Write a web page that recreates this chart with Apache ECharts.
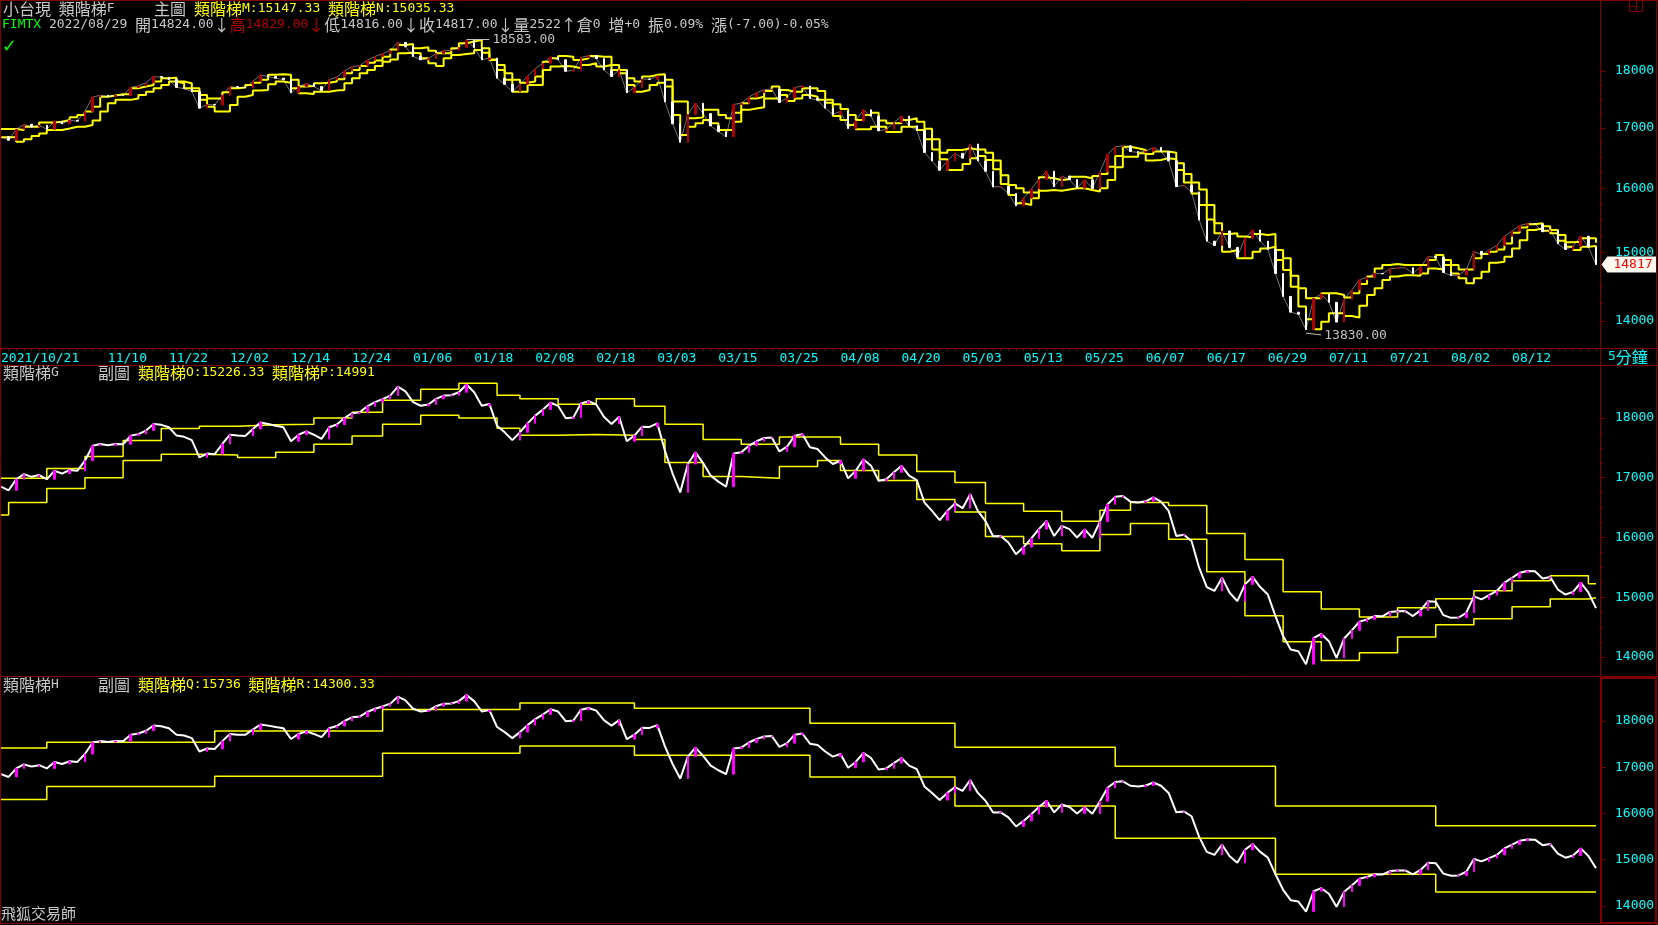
<!DOCTYPE html>
<html><head><meta charset="utf-8">
<script src="https://cdn.jsdelivr.net/npm/echarts@6/dist/echarts.min.js"></script>
<style>html,body{margin:0;padding:0;background:#000;}#c{width:1658px;height:925px;}</style>
</head><body><div id="c"></div>
<script>
// ---- data (one category per trading day, 2021/10/21 .. 2022/08/29) ----
const closes = [16850,16790,16975,17060,17015,17045,16975,17115,17070,17130,
17115,17285,17535,17565,17545,17565,17560,17705,17730,17790,
17900,17885,17845,17705,17685,17630,17340,17405,17395,17565,
17720,17705,17700,17815,17925,17900,17870,17845,17610,17720,
17775,17720,17650,17845,17890,18000,18080,18095,18195,18265,
18315,18375,18525,18445,18265,18205,18225,18320,18375,18380,
18430,18560,18430,18205,18235,17870,17760,17630,17760,17910,
18040,18140,18255,18205,17995,18010,18245,18280,18225,18020,
17900,18020,17610,17705,17855,17850,17910,17450,17070,16755,
17230,17425,17245,17035,16935,16850,17405,17425,17535,17610,
17665,17675,17440,17520,17705,17730,17510,17480,17340,17230,
17285,16990,17115,17310,17200,16950,16975,17090,17200,17035,
16960,16585,16445,16290,16445,16570,16490,16725,16445,16275,
16020,16025,15915,15720,15840,15985,16140,16275,16025,16195,
16140,16000,16135,15995,16265,16555,16680,16695,16600,16585,
16605,16670,16600,16445,16025,16045,15940,15495,15170,15105,
15325,15075,14935,15215,15340,15170,15045,14685,14350,14125,
14095,13880,14320,14385,14265,13985,14310,14445,14590,14630,
14685,14680,14755,14765,14770,14685,14780,14935,14925,14700,
14655,14660,14740,15015,14965,15035,15105,15245,15325,15410,
15440,15435,15315,15340,15130,15045,15090,15245,15080,14817];

const ladderM = [16980,16980,16965,17020,17020,17090,17090,17105,17135,17180,
17220,17280,17365,17540,17560,17585,17585,17690,17720,17750,
17810,17870,17880,17810,17780,17690,17570,17510,17510,17620,
17690,17705,17750,17790,17840,17930,17940,17930,17840,17720,
17730,17780,17790,17810,17850,17960,18020,18090,18150,18190,
18260,18395,18475,18495,18415,18435,18370,18325,18325,18415,
18510,18540,18570,18415,18210,18110,17960,17840,17790,17810,
17900,18170,18230,18275,18260,18200,18230,18275,18260,18260,
18110,18020,17870,17810,17900,17930,17940,17840,17455,17455,
17165,17180,17310,17310,17220,17165,17260,17425,17510,17540,
17640,17720,17660,17630,17630,17690,17690,17640,17485,17410,
17325,17220,17135,17220,17260,17125,17080,17080,17135,17165,
17105,16985,16805,16580,16625,16625,16655,16635,16635,16580,
16450,16210,16050,16000,15930,15930,16175,16160,16130,16145,
16185,16185,16160,16195,16230,16350,16525,16680,16655,16625,
16560,16600,16600,16580,16405,16230,16090,15980,15730,15445,
15280,15290,15240,15230,15280,15265,15280,15035,14910,14650,
14470,14325,14325,14395,14395,14370,14335,14395,14530,14640,
14760,14810,14825,14810,14810,14810,14810,14885,14960,14885,
14810,14745,14745,14910,14975,15010,15045,15135,15300,15380,
15430,15445,15400,15340,15265,15155,15160,15215,15215,15147.33];

const ladderN = [16840,16840,16765,16805,16860,16905,16965,16965,16990,17020,
17020,17050,17125,17280,17425,17485,17485,17510,17570,17630,
17690,17750,17810,17780,17690,17640,17485,17365,17280,17280,
17395,17540,17570,17650,17660,17760,17810,17790,17690,17600,
17590,17630,17630,17650,17660,17780,17870,17960,18020,18090,
18170,18210,18325,18335,18325,18230,18140,18090,18230,18290,
18310,18325,18385,18335,18200,18020,17840,17630,17630,17750,
17750,18020,18080,18090,18080,18050,18110,18140,18080,18110,
18020,17960,17750,17630,17660,17750,17790,17720,17220,16880,
17020,17080,17135,17080,16965,16965,17105,17310,17335,17355,
17510,17510,17570,17465,17510,17570,17540,17485,17435,17205,
17135,17050,16975,16975,17020,17020,16930,16930,17020,17020,
16965,16805,16635,16470,16295,16295,16395,16490,16525,16460,
16305,16065,15890,15760,15730,15840,15960,15970,15960,15980,
16000,16000,15970,15945,16000,16130,16340,16515,16515,16570,
16450,16460,16490,16470,16295,16090,15915,15730,15505,15290,
15010,15035,14910,14910,15010,15060,15085,14885,14735,14490,
14205,14025,13885,13990,14110,14110,14070,14050,14215,14370,
14470,14590,14640,14660,14660,14650,14685,14760,14745,14810,
14685,14615,14540,14615,14710,14845,14860,14935,15060,15185,
15340,15365,15330,15290,15175,15085,15035,15085,15095,15035.33];

// step ladders: [day index where level starts, level]
const ladderO = [[0,16990],[6,17155],[11,17355],[16,17625],[21,17825],[26,17860],[31,17885],[36,17895],[41,18000],[46,18095],[50,18295],[55,18480],[60,18580],[65,18380],[68,18320],[73,18230],[78,18320],[83,18195],[87,17895],[92,17640],[97,17560],[102,17680],[110,17560],[115,17380],[120,17105],[125,16920],[129,16570],[134,16440],[139,16270],[144,16455],[148,16585],[153,16535],[158,16065],[163,15630],[168,15090],[173,14805],[178,14670],[183,14825],[188,14975],[193,15110],[198,15275],[203,15360],[208,15226.33],[209,15226.33]];
const ladderP = [[0,16375],[1,16585],[6,16820],[11,17000],[16,17290],[21,17395],[26,17380],[31,17340],[36,17425],[41,17560],[46,17700],[50,17895],[55,18045],[60,18000],[65,17830],[68,17710],[73,17725],[78,17710],[83,17640],[87,17255],[92,17020],[97,16990],[102,17190],[107,17290],[110,17120],[115,16955],[120,16635],[125,16425],[129,16015],[134,15895],[139,15780],[144,16050],[148,16235],[153,15970],[158,15425],[163,14690],[168,14255],[173,13940],[178,14070],[183,14335],[188,14540],[193,14640],[198,14840],[203,14970],[208,14991],[209,14991]];
const ladderQ = [[0,17415],[6,17540],[28,17785],[50,18250],[68,18390],[83,18275],[106,17950],[125,17430],[146,17020],[167,16160],[188,15736],[209,15736]];
const ladderR = [[0,16305],[6,16585],[28,16805],[50,17300],[68,17460],[83,17260],[106,16790],[125,16160],[146,15465],[167,14685],[188,14300.33],[209,14300.33]];

const tickDays = [0,14,22,30,38,46,54,62,70,78,86,94,102,110,118,126,134,142,150,158,166,174,182,190,198];
const tickText = ['2021/10/21','11/10','11/22','12/02','12/14','12/24','01/06','01/18','02/08','02/18','03/03','03/15','03/25','04/08','04/20','05/03','05/13','05/25','06/07','06/17','06/29','07/11','07/21','08/02','08/12'];
const yLabels = [14000,15000,16000,17000,18000];
const yMinor = [14250,14500,14750,15250,15500,15750,16250,16500,16750,17250,17500,17750];
const highMark = [61, 18583];
const lowMark = [171, 13830];
const quote = {date:'2022/08/29', open:'14824.00', high:'14829.00', low:'14816.00', close:'14817.00', vol:'2522', oi:'0', chg:'+0', amp:'0.09%', diff:'(-7.00)-0.05%'};

// ---- build ----
const RED = '#800000';
const MONO = '"DejaVu Sans Mono",monospace';
const GRAY = '#C8C8C8';
const YEL = '#FFFF00';
const days = closes.map((_, i) => String(i));
const candles = closes.map((c, i) => { const o = i ? closes[i-1] : c; return [o, c, Math.min(o,c), Math.max(o,c)]; });
const last = closes.length - 1;

function xAx(g, visible) {
  return {gridIndex:g, type:'category', data:days, boundaryGap:false,
    axisLine:{show:false}, splitLine:{show:false},
    axisTick:{show:visible, interval:0, length:3, lineStyle:{color:RED}},
    axisLabel:{show:visible, interval:(i)=>tickDays.includes(i), formatter:(v,i)=>tickText[tickDays.indexOf(i)],
      align:'left', margin:4, color:'#00FFFF', fontFamily:MONO, fontSize:13}};
}
function yAx(g, type, min, max, minor) {
  return {gridIndex:g, type, min, max, position:'right', offset:4, scale:true,
    axisLine:{show:false}, splitLine:{show:false}, minorTick:{show:false},
    axisTick:{show:true, inside:false, length: minor ? 2.5 : 5, customValues: minor ? yMinor : yLabels, lineStyle:{color:RED}},
    axisLabel:{show:!minor, customValues:yLabels, margin:15, color:'#00FFFF', fontFamily:MONO, fontSize:13,
      formatter:(v)=>String(Math.round(v))}};
}
function stepLine(xi, yi, data, w) {
  return {type:'line', xAxisIndex:xi, yAxisIndex:yi, data, step:'end', symbol:'none', silent:true,
    lineStyle:{color:YEL, width:w}, z:3};
}
function priceLine(xi, yi, w, op) {
  return {type:'line', xAxisIndex:xi, yAxisIndex:yi, data:closes, symbol:'none', silent:true,
    lineStyle:{color:'#FFFFFF', width:w, opacity:op}, z:4};
}
function candle(xi, yi, up, down, extra) {
  return Object.assign({type:'candlestick', xAxisIndex:xi, yAxisIndex:yi, data:candles, barWidth:2, silent:true,
    itemStyle:{color:up, borderColor:up, color0:down, borderColor0:down, borderWidth:1}, z:5}, extra||{});
}

const graphics = [];
function hline(y, x1, x2, w) { graphics.push({type:'line', silent:true, z:100, shape:{x1, y1:y, x2, y2:y}, style:{stroke:RED, lineWidth:w||1}}); }
function vline(x, y1, y2, w) { graphics.push({type:'line', silent:true, z:100, shape:{x1:x, y1, x2:x, y2}, style:{stroke:RED, lineWidth:w||1}}); }
// text with half-width Latin (13px mono) and full-width CJK (16px)
function rich(x, y, parts) {
  const styles = {}; let s = '';
  parts.forEach(([t, col], k) => {
    let buf = '', mode = null;
    const flush = () => {
      if (!buf) return;
      const key = mode + k;
      styles[key] = mode === 'c'
        ? {fill:col, fontSize:16, fontFamily:'"Noto Sans CJK TC"', lineHeight:16, verticalAlign:'middle'}
        : {fill:col, fontSize:13, fontFamily:'"DejaVu Sans Mono"', lineHeight:16, verticalAlign:'middle'};
      s += '{' + key + '|' + buf + '}'; buf = '';
    };
    for (const ch of t) { const m = ch.codePointAt(0) > 0x2000 ? 'c' : 'a'; if (m !== mode) { flush(); mode = m; } buf += ch; }
    flush();
  });
  graphics.push({type:'text', silent:true, z:101, x, y, style:{text:s, rich:styles, fill:GRAY, font:'13px "DejaVu Sans Mono"', verticalAlign:'middle', align:'left'}});
}
function plain(x, y, text, fill, font) {
  graphics.push({type:'text', silent:true, z:101, x, y, style:{text, fill, font, verticalAlign:'middle', align:'left'}});
}
// frame
hline(0.5, 0, 1658); hline(923.5, 0, 1658);
vline(0.5, 0, 925); vline(1656.5, 0, 925);
vline(1600.5, 0, 924);
hline(348.5, 0, 1658); hline(365.5, 0, 1658); hline(676.5, 0, 1658);
graphics.push({type:'rect', silent:true, z:100, shape:{x:1601, y:678, width:55, height:245}, style:{fill:'none', stroke:RED, lineWidth:2}});
// small window icon
graphics.push({type:'rect', silent:true, z:100, shape:{x:1629.5, y:0.5, width:13, height:11}, style:{fill:'none', stroke:RED, lineWidth:1}});
vline(1636.5, 0.5, 11.5); hline(6.5, 1629.5, 1636.5);
// headers
rich(3, 9, [['小台現 類階梯F', GRAY]]);
rich(154, 9, [['主圖', GRAY]]);
rich(194, 9, [['類階梯M:' + ladderM[last] + ' 類階梯N:' + ladderN[last], YEL]]);
rich(2, 25, [['FIMTX', '#00FF00'], [' ' + quote.date + ' 開' + quote.open + '↓', GRAY], ['高' + quote.high + '↓', '#B00000'],
  ['低' + quote.low + '↓收' + quote.close + '↓量' + quote.vol + '↑倉' + quote.oi + ' 增' + quote.chg + ' 振' + quote.amp + ' 漲' + quote.diff, GRAY]]);
plain(2, 47, '✓', '#00FF00', '18px "DejaVu Sans",sans-serif');
rich(3, 373, [['類階梯G', GRAY]]); rich(98, 373, [['副圖', GRAY]]);
rich(138, 373, [['類階梯O:' + ladderO[ladderO.length-1][1] + ' 類階梯P:' + ladderP[ladderP.length-1][1], YEL]]);
rich(3, 685, [['類階梯H', GRAY]]); rich(98, 685, [['副圖', GRAY]]);
rich(138, 685, [['類階梯Q:' + ladderQ[ladderQ.length-1][1] + ' 類階梯R:' + ladderR[ladderR.length-1][1], YEL]]);
rich(1608, 357, [['5分鐘', '#00FFFF']]);
plain(1, 913, '飛狐交易師', GRAY, '15px "Noto Sans CJK TC",sans-serif');

const gridBase = {left:1, right:62, outerBoundsMode:'none', containLabel:false};
const chart = echarts.init(document.getElementById('c'), null, {renderer:'canvas'});
chart.setOption({
  backgroundColor:'#000', animation:false,
  grid:[Object.assign({top:1, height:347}, gridBase),
        Object.assign({top:366, height:310}, gridBase),
        Object.assign({top:679, height:243}, gridBase)],
  xAxis:[xAx(0,true), xAx(1,false), xAx(2,false)],
  yAxis:[yAx(0,'log',13625,19312,false), yAx(0,'log',13625,19312,true),
         yAx(1,'value',13682,18870,false), yAx(1,'value',13682,18870,true),
         yAx(2,'value',13654,18908,false), yAx(2,'value',13654,18908,true)],
  series:[
    stepLine(0,0,ladderM,2), stepLine(0,0,ladderN,2),
    priceLine(0,0,1,0.45),
    candle(0,0,'#B00000','#FFFFFF',{
      markLine:{silent:true, symbol:['none','none'], animation:false,
        lineStyle:{color:'#C0C0C0', width:1, type:'solid'},
        label:{show:true, position:'end', color:'#C0C0C0', fontFamily:MONO, fontSize:13, distance:3},
        data:[
          [{coord:[highMark[0], highMark[1]]},{coord:[highMark[0]+3, highMark[1]], label:{formatter:highMark[1].toFixed(2)}}],
          [{coord:[lowMark[0], lowMark[1]]},{coord:[lowMark[0]+2, lowMark[1]-25], label:{formatter:lowMark[1].toFixed(2)}}]
        ]},
      markPoint:{silent:true, animation:false,
        symbol:'path://M0,8 L6,0 L56,0 L56,16 L6,16 Z', symbolSize:[55,16], symbolOffset:[33,0],
        itemStyle:{color:'#FFF8EE'},
        label:{show:true, position:'inside', offset:[4,0], color:'#FF0000', fontFamily:MONO, fontSize:13,
          formatter:()=>String(closes[last])},
        data:[{coord:[last, closes[last]]}]}
    }),
    stepLine(1,2,ladderO,1.5), stepLine(1,2,ladderP,1.5),
    priceLine(1,2,2,1), candle(1,2,'#FF00FF','rgba(0,0,0,0)'),
    stepLine(2,4,ladderQ,1.5), stepLine(2,4,ladderR,1.5),
    priceLine(2,4,2,1), candle(2,4,'#FF00FF','rgba(0,0,0,0)')
  ],
  graphic:graphics
});
</script></body></html>
